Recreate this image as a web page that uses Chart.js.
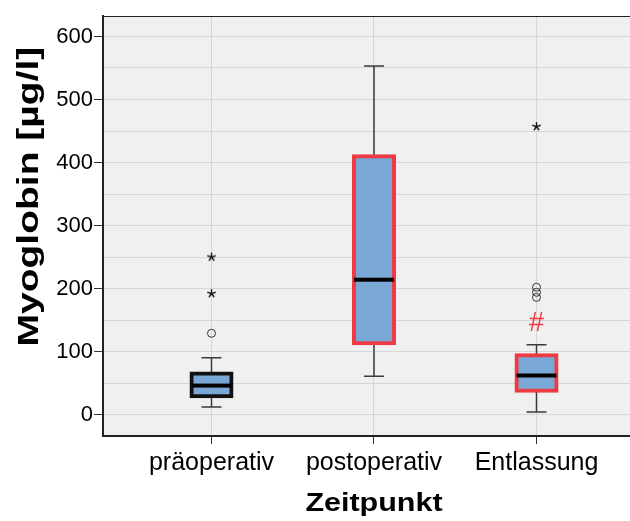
<!DOCTYPE html>
<html>
<head>
<meta charset="utf-8">
<title>Myoglobin</title>
<script src="https://cdn.jsdelivr.net/npm/chart.js@4.4.1/dist/chart.umd.min.js"></script>
<style>
  html, body { margin: 0; padding: 0; background: #ffffff; }
  canvas { display: block; }
</style>
</head>
<body>
<canvas id="chart" width="630" height="521"></canvas>
<script>
// Myoglobin [µg/l] per time point: box plot statistics
const categories   = ['präoperativ', 'postoperativ', 'Entlassung'];
const whiskerLow   = [12, 61, 4];
const quartile1    = [29, 113, 38];
const medians      = [46, 214, 62];
const quartile3    = [65, 410, 94];
const whiskerHigh  = [90, 553, 111];
const outliersMild    = [[129], [], [186, 194, 202]];   // circles
const outliersExtreme = [[192, 250], [], [457]];        // asterisks
const markedGroups = [false, false, true];              // '#' above the upper whisker
const yTickValues  = [0, 50, 100, 150, 200, 250, 300, 350, 400, 450, 500, 550, 600];
const xTitle = 'Zeitpunkt';
const yTitle = 'Myoglobin [µg/l]';

const FONT = "'Liberation Sans', Arial, Helvetica, sans-serif";
const RED = '#ee3a43';
const BOX_FILL = '#7aa8d6';
const X_TITLE_STRETCH = 1.22;   // axis titles are set in a wide bold face
const Y_TITLE_STRETCH = 1.3;

// small five-armed asterisk used as point style
function asteriskImage(r, color) {
  const size = Math.ceil(r * 2 + 4);
  const cv = document.createElement('canvas');
  cv.width = cv.height = size;
  const g = cv.getContext('2d');
  g.strokeStyle = color;
  g.lineWidth = 1.4;
  const c = size / 2;
  for (let k = 0; k < 5; k++) {
    const a = -Math.PI / 2 + k * 2 * Math.PI / 5;
    g.beginPath();
    g.moveTo(c, c);
    g.lineTo(c + r * Math.cos(a), c + r * Math.sin(a));
    g.stroke();
  }
  return cv;
}

const boxData = categories.map((c, i) => ({ x: i + 1, y: [quartile1[i], quartile3[i]] }));
const mildData = [];
const extremeData = [];
categories.forEach((c, i) => {
  outliersMild[i].forEach(v => mildData.push({ x: i + 1, y: v }));
  outliersExtreme[i].forEach(v => extremeData.push({ x: i + 1, y: v }));
});

// background, whiskers, medians, significance mark, frame line and axis titles
const boxplotParts = {
  id: 'boxplotParts',
  beforeDraw(chart) {
    const { ctx, chartArea: a } = chart;
    ctx.save();
    ctx.fillStyle = '#f0f0f0';
    ctx.fillRect(a.left, a.top, a.right - a.left, a.bottom - a.top);
    ctx.restore();
  },
  beforeDatasetsDraw(chart) {
    const { ctx } = chart;
    const xs = chart.scales.x, ys = chart.scales.y;
    ctx.save();
    ctx.strokeStyle = '#3a3a3a';
    ctx.lineWidth = 1.5;
    categories.forEach((c, i) => {
      const x = xs.getPixelForValue(i + 1);
      const yHi = ys.getPixelForValue(whiskerHigh[i]);
      const yLo = ys.getPixelForValue(whiskerLow[i]);
      const yQ3 = ys.getPixelForValue(quartile3[i]);
      const yQ1 = ys.getPixelForValue(quartile1[i]);
      ctx.beginPath();
      ctx.moveTo(x, yQ3); ctx.lineTo(x, yHi);
      ctx.moveTo(x - 10, yHi); ctx.lineTo(x + 10, yHi);
      ctx.moveTo(x, yQ1); ctx.lineTo(x, yLo);
      ctx.moveTo(x - 10, yLo); ctx.lineTo(x + 10, yLo);
      ctx.stroke();
    });
    ctx.restore();
  },
  afterDatasetsDraw(chart) {
    const { ctx } = chart;
    const xs = chart.scales.x, ys = chart.scales.y;
    ctx.save();
    categories.forEach((c, i) => {
      const x = xs.getPixelForValue(i + 1);
      const ym = ys.getPixelForValue(medians[i]);
      ctx.fillStyle = '#000000';
      ctx.fillRect(x - 20, ym - 2, 40, 4);
      if (markedGroups[i]) {
        const yHi = ys.getPixelForValue(whiskerHigh[i]);
        ctx.fillStyle = RED;
        ctx.font = '27px ' + FONT;
        ctx.textAlign = 'center';
        ctx.textBaseline = 'middle';
        ctx.fillText('#', x, yHi - 21);
      }
    });
    ctx.restore();
  },
  afterDraw(chart) {
    const { ctx, chartArea: a } = chart;
    const xs = chart.scales.x;
    ctx.save();
    // top frame line
    ctx.strokeStyle = '#222222';
    ctx.lineWidth = 1.2;
    ctx.beginPath();
    ctx.moveTo(a.left, a.top + 0.5);
    ctx.lineTo(a.right, a.top + 0.5);
    ctx.stroke();

    ctx.fillStyle = '#000000';
    ctx.textAlign = 'center';
    ctx.textBaseline = 'alphabetic';

    // x axis title, centred over the outer categories
    const xc = (xs.getPixelForValue(1) + xs.getPixelForValue(categories.length)) / 2;
    ctx.save();
    ctx.translate(xc, 511);
    ctx.scale(X_TITLE_STRETCH, 1);
    ctx.font = 'bold 25px ' + FONT;
    ctx.fillText(xTitle, 0, 0);
    ctx.restore();

    // y axis title, rotated
    ctx.save();
    ctx.translate(37.5, a.top + (a.bottom - a.top) * 0.43);
    ctx.rotate(-Math.PI / 2);
    ctx.scale(Y_TITLE_STRETCH, 1);
    ctx.font = 'bold 30px ' + FONT;
    ctx.fillText(yTitle, 0, 0);
    ctx.restore();

    ctx.restore();
  }
};

Chart.defaults.font.family = FONT;
Chart.defaults.color = '#000000';

new Chart(document.getElementById('chart'), {
  type: 'bar',
  data: {
    datasets: [
      {
        type: 'scatter',
        data: mildData,
        pointStyle: 'circle',
        pointRadius: 4,
        pointBorderWidth: 1,
        pointBorderColor: '#333333',
        pointBackgroundColor: 'rgba(0,0,0,0)',
        order: 0
      },
      {
        type: 'scatter',
        data: extremeData,
        pointStyle: asteriskImage(4.5, '#111111'),
        pointRadius: 5,
        order: 0
      },
      {
        type: 'bar',
        data: boxData,
        backgroundColor: BOX_FILL,
        borderColor: ['#111111', RED, RED],
        borderWidth: 4,
        borderSkipped: false,
        barThickness: 40,
        inflateAmount: 2,
        order: 1
      }
    ]
  },
  options: {
    responsive: false,
    animation: false,
    devicePixelRatio: 1,
    layout: { autoPadding: false, padding: { top: 16, left: 0, right: 0, bottom: 0 } },
    plugins: {
      legend: { display: false },
      tooltip: { enabled: false }
    },
    scales: {
      x: {
        type: 'linear',
        min: 0.3323,
        max: 3.5754,
        offset: false,
        afterBuildTicks(scale) {
          scale.ticks = categories.map((c, i) => ({ value: i + 1 }));
        },
        afterFit(scale) { scale.height = 85; },
        ticks: {
          callback: (v) => categories[Math.round(v) - 1] ?? '',
          font: { size: 25 },
          padding: 4,
          maxRotation: 0,
          autoSkip: false,
          color: '#000000'
        },
        grid: {
          offset: false,
          color: '#d6d6d6',
          lineWidth: 1,
          tickLength: 8,
          tickColor: '#333333',
          tickWidth: 1
        },
        border: { display: true, color: '#222222', width: 2 },
        title: { display: false, text: xTitle }
      },
      y: {
        type: 'linear',
        min: -34,
        max: 632.5,
        beginAtZero: false,
        afterBuildTicks(scale) {
          scale.ticks = yTickValues.map(v => ({ value: v }));
        },
        afterFit(scale) { scale.width = 103; },
        ticks: {
          callback: (v) => (v % 100 === 0 ? String(v) : ''),
          font: { size: 22 },
          padding: 1,
          color: '#000000'
        },
        grid: {
          color: '#d6d6d6',
          lineWidth: 1,
          tickLength: 9,
          tickWidth: 1,
          tickColor: (ctx) => (ctx.tick && ctx.tick.value % 100 === 0 ? '#333333' : 'rgba(0,0,0,0)')
        },
        border: { display: true, color: '#222222', width: 2 },
        title: { display: false, text: yTitle }
      }
    }
  },
  plugins: [boxplotParts]
});
</script>
</body>
</html>
